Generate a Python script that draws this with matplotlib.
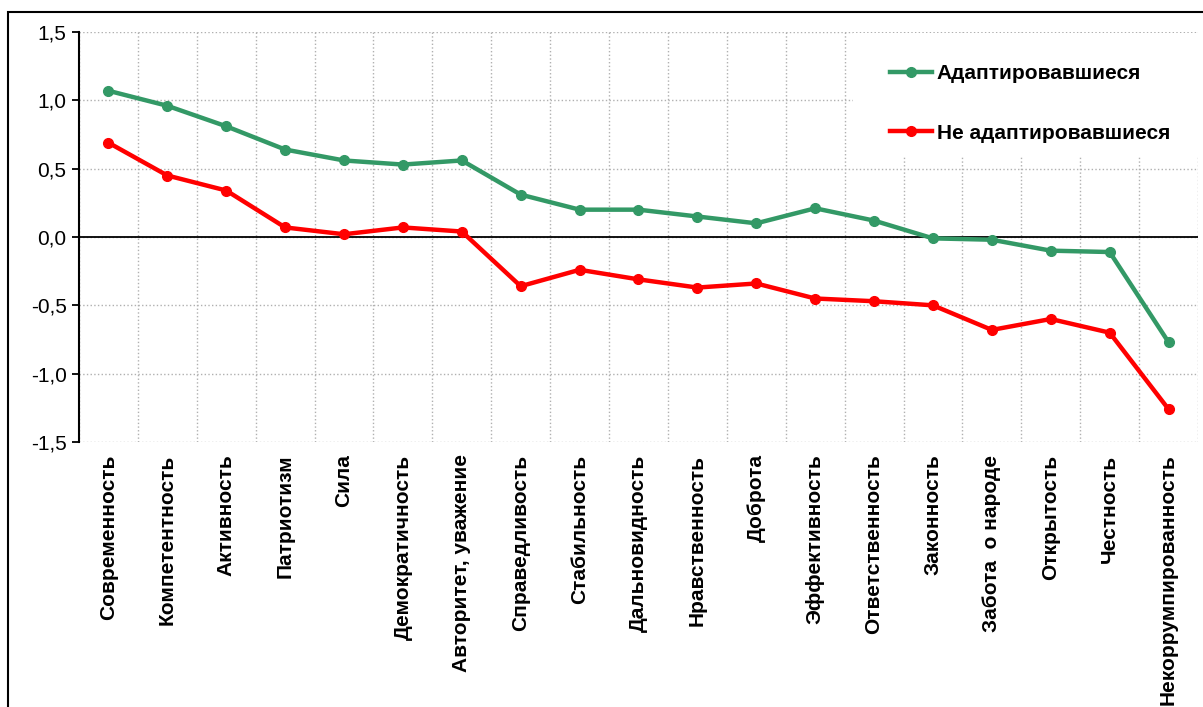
import numpy as np
import matplotlib.pyplot as plt
from matplotlib.patches import Rectangle

categories = ['Современность', 'Компетентность', 'Активность', 'Патриотизм', 'Сила',
              'Демократичность', 'Авторитет, уважение', 'Справедливость', 'Стабильность',
              'Дальновидность', 'Нравственность', 'Доброта', 'Эффективность',
              'Ответственность', 'Законность', 'Забота  о народе', 'Открытость',
              'Честность', 'Некоррумпированность']
adapted = [1.07, 0.96, 0.81, 0.64, 0.56, 0.53, 0.56, 0.31, 0.20, 0.20,
           0.15, 0.10, 0.21, 0.12, -0.01, -0.02, -0.10, -0.11, -0.77]
not_adapted = [0.69, 0.45, 0.34, 0.07, 0.02, 0.07, 0.04, -0.36, -0.24, -0.31,
               -0.37, -0.34, -0.45, -0.47, -0.50, -0.68, -0.60, -0.70, -1.26]
yticks = [-1.5, -1.0, -0.5, 0.0, 0.5, 1.0, 1.5]

plt.rcParams['font.family'] = ['Liberation Sans', 'DejaVu Sans']

W, H = 1203, 707
fig = plt.figure(figsize=(W / 100, H / 100), dpi=100)
ax = fig.add_axes([79 / W, 1 - 442 / H, 1119 / W, 410 / H])

# outer chart frame
fig.patches.append(Rectangle((8 / W, -0.1), 1.2, 1 - 12 / H + 0.1,
                             transform=fig.transFigure, fill=False,
                             edgecolor='black', linewidth=1.5))

x = np.arange(len(categories))
green = '#339966'
red = '#ff0000'
ax.plot(x, adapted, color=green, lw=3.2, marker='o', ms=7, zorder=4,
        label='Адаптировавшиеся')
ax.plot(x, not_adapted, color=red, lw=3.2, marker='o', ms=7, zorder=4,
        label='Не адаптировавшиеся')
ax.axhline(0, color='black', lw=1.3, zorder=3)

ax.set_xlim(-0.5, len(categories) - 0.5)
ax.set_ylim(-1.5, 1.5)
ax.set_yticks(yticks)
ax.set_yticklabels([f'{v:.1f}'.replace('.', ',') for v in yticks], fontsize=15)
ax.set_xticks(x)
ax.set_xticklabels(categories, rotation=90, fontsize=15, fontweight='bold')
ax.tick_params(axis='x', length=0, pad=9)
ax.tick_params(axis='y', length=5, width=1.3, direction='out', pad=4)
ax.set_xticks(np.arange(-0.5, len(categories), 1), minor=True)
ax.tick_params(axis='x', which='minor', length=0)
ax.grid(True, which='minor', axis='x', color='#b0b0b0', ls=':', lw=1)
ax.grid(True, which='major', axis='y', color='#b0b0b0', ls=':', lw=1)
ax.set_axisbelow(True)

for s in ['top', 'right', 'bottom']:
    ax.spines[s].set_visible(False)
ax.spines['left'].set_linewidth(1.5)

# white legend area
x0 = (853 - 79) / 1119 * len(categories) - 0.5
ax.add_patch(Rectangle((x0, 0.59), 20, 0.9, facecolor='white',
                       edgecolor='none', zorder=2))
leg = ax.legend(loc='upper left', bbox_to_anchor=((890 - 79) / 1119, (442 - 64) / 410),
                frameon=False, prop={'weight': 'bold', 'size': 15},
                borderpad=0, borderaxespad=0,
                handlelength=2.0, handletextpad=0.25, labelspacing=1.95)

fig.savefig('out.png', dpi=100)
